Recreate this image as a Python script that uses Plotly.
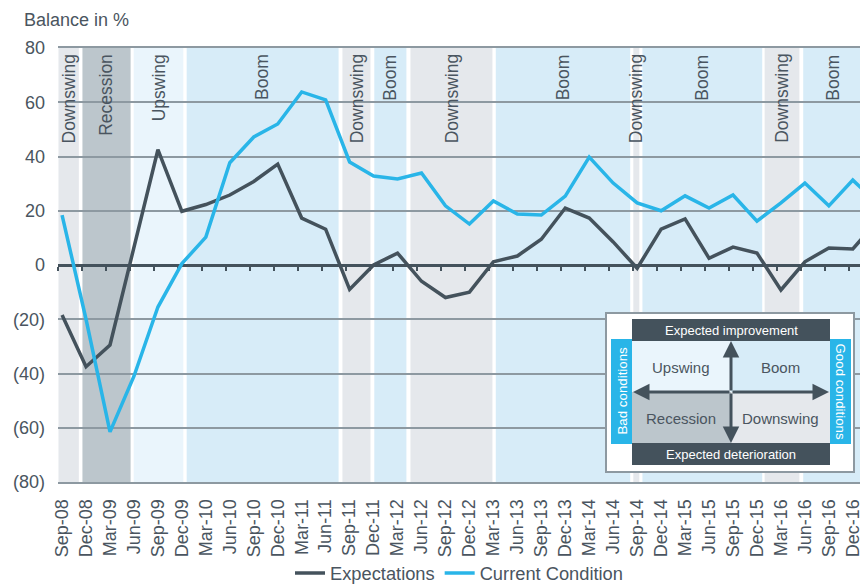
import plotly.graph_objects as go

# ---------------- data ----------------
categories = ["Sep-08", "Dec-08", "Mar-09", "Jun-09", "Sep-09", "Dec-09", "Mar-10", "Jun-10",
              "Sep-10", "Dec-10", "Mar-11", "Jun-11", "Sep-11", "Dec-11", "Mar-12", "Jun-12",
              "Sep-12", "Dec-12", "Mar-13", "Jun-13", "Sep-13", "Dec-13", "Mar-14", "Jun-14",
              "Sep-14", "Dec-14", "Mar-15", "Jun-15", "Sep-15", "Dec-15", "Mar-16", "Jun-16",
              "Sep-16", "Dec-16", "Mar-17"]

expectations = [-18.4, -37.5, -29.5, 6, 42.5, 19.8, 22.3, 25.8, 30.8, 37.2, 17.3, 13.2,
                -9, 0, 4.4, -6, -12, -10, 1.2, 3.3, 9.5, 21, 17.3, 8.5,
                -1.2, 13.2, 17, 2.5, 6.6, 4.4, -9.2, 1.2, 6.3, 5.9, 16]

current_condition = [18.4, -20, -61.5, -41, -15.5, 0.5, 10.3, 37.7, 47.2, 52, 63.8, 60.9,
                     38, 32.8, 31.7, 33.9, 21.8, 15.1, 23.6, 18.8, 18.4, 25.4, 39.8, 30.2,
                     22.9, 20, 25.5, 21, 25.8, 16.2, 22.9, 30.2, 21.8, 31.3, 23]

y_tick_values = [-80, -60, -40, -20, 0, 20, 40, 60, 80]
y_tick_labels = ["(80)", "(60)", "(40)", "(20)", "0", "20", "40", "60", "80"]

# business-cycle phases (start, end in category index units)
phase_names = ["Downswing", "Recession", "Upswing", "Boom", "Downswing", "Boom",
               "Downswing", "Boom", "Downswing", "Boom", "Downswing", "Boom"]
phase_start = [-0.15, 0.85, 2.99, 5.20, 11.70, 13.03, 14.54, 18.10, 23.84, 24.22, 29.32, 30.93]
phase_end = [0.70, 2.86, 5.06, 11.54, 12.87, 14.37, 17.96, 23.71, 24.09, 29.22, 30.77, 33.60]

# ---------------- styles ----------------
FONT = "Liberation Sans, Arial, Helvetica, sans-serif"
TXT = "#4a5560"
DARK = "#44525c"
BLUE = "#29b5e8"
GRID = "#8d99a1"
phase_colors = {"Downswing": "#e5e8ec", "Recession": "#bcc6cc",
                "Upswing": "#eaf5fc", "Boom": "#d7ecf8"}

W, H = 860, 585
ML, MR, MT, MB = 58, 0, 48, 103
PW, PH = W - ML - MR, H - MT - MB
X_RANGE = [-0.17, 33.3]
TICK_SHIFT = -0.17


def px(x):
    return (x - ML) / PW


def py(y):
    return (H - MB - y) / PH


idx = list(range(len(categories)))

fig = go.Figure()
fig.add_trace(go.Scatter(x=idx, y=expectations, mode="lines", name="Expectations",
                         line=dict(color=DARK, width=3.5), cliponaxis=True))
fig.add_trace(go.Scatter(x=idx, y=current_condition, mode="lines", name="Current Condition",
                         line=dict(color=BLUE, width=3.5), cliponaxis=True))
# invisible helper trace so the zero-line axis (x2) is drawn
fig.add_trace(go.Scatter(x=[idx[0]], y=[0], xaxis="x2", mode="markers",
                         marker=dict(opacity=0), showlegend=False, hoverinfo="skip"))

shapes = []
annotations = []

# phase bands + labels
for name, s, e in zip(phase_names, phase_start, phase_end):
    shapes.append(dict(type="rect", xref="x", yref="paper", x0=s, x1=e, y0=0, y1=1,
                       fillcolor=phase_colors[name], line=dict(width=0), layer="below"))
    annotations.append(dict(xref="x", yref="paper", x=(s + min(e, 33.45)) / 2, y=0.99,
                            text=name, textangle=-90, showarrow=False,
                            xanchor="center", yanchor="top",
                            font=dict(family=FONT, size=17.5, color=TXT)))

# axis title
annotations.append(dict(xref="paper", yref="paper", x=px(22), y=py(20), text="Balance in %",
                        showarrow=False, xanchor="left", yanchor="middle",
                        font=dict(family=FONT, size=18, color=TXT)))

# ---------------- inset legend box ----------------
def rect(x0, y0, x1, y1, fill, line_color=None, lw=0):
    shapes.append(dict(type="rect", xref="paper", yref="paper",
                       x0=px(x0), x1=px(x1), y0=py(y1), y1=py(y0),
                       fillcolor=fill, layer="above",
                       line=dict(width=lw, color=line_color or fill)))


def label(x, y, text, size, color, angle=0):
    annotations.append(dict(xref="paper", yref="paper", x=px(x), y=py(y), text=text,
                            textangle=angle, showarrow=False, xanchor="center",
                            yanchor="middle", font=dict(family=FONT, size=size, color=color)))


rect(606, 313, 854, 472, "white", GRID, 2)
rect(632, 341, 731, 392, phase_colors["Upswing"])
rect(731, 341, 830, 392, phase_colors["Boom"])
rect(632, 392, 731, 443, phase_colors["Recession"])
rect(731, 392, 830, 443, phase_colors["Downswing"])
rect(632, 319, 830, 341, DARK)
rect(632, 443, 830, 465, DARK)
rect(611, 339, 632, 444, BLUE)
rect(830, 339, 851, 444, BLUE)

label(731, 330, "Expected improvement", 13, "white")
label(731, 454, "Expected deterioration", 13, "white")
label(621.5, 391, "Bad conditions", 13.3, "white", -90)
label(840.5, 391, "Good conditions", 13.3, "white", 90)
label(681, 367, "Upswing", 15, TXT)
label(780, 367, "Boom", 15, TXT)
label(681, 418, "Recession", 15, TXT)
label(780, 418, "Downswing", 15, TXT)

cx, cy = 731, 392
for hx, hy in [(731, 341), (731, 443), (633, 392), (829, 392)]:
    annotations.append(dict(xref="paper", yref="paper", x=px(hx), y=py(hy), text="",
                            showarrow=True, ax=cx - hx, ay=cy - hy,
                            arrowhead=2, arrowsize=1.1, arrowwidth=3, arrowcolor=DARK))

fig.update_layout(
    width=W, height=H,
    margin=dict(l=ML, r=MR, t=MT, b=MB, autoexpand=False),
    paper_bgcolor="white", plot_bgcolor="white",
    font=dict(family=FONT, size=18, color=TXT),
    showlegend=True,
    legend=dict(orientation="h", x=px(290), y=py(573), xanchor="left", yanchor="middle",
                font=dict(family=FONT, size=18.3, color=TXT), bgcolor="rgba(0,0,0,0)",
                itemwidth=30),
    xaxis=dict(range=X_RANGE, tickmode="array", tickvals=idx, ticktext=categories,
               tickangle=-90, showgrid=False, zeroline=False, showline=True,
               linecolor=GRID, linewidth=2, mirror=True, ticks="",
               ticklabelstandoff=8, ticklabeloverflow="allow", automargin=False,
               layer="below traces",
               tickfont=dict(family=FONT, size=18, color=TXT)),
    xaxis2=dict(range=X_RANGE, overlaying="x", anchor="free", position=0.5, side="bottom",
                tickmode="array", tickvals=[i + TICK_SHIFT for i in idx[:34]],
                showticklabels=False, ticks="outside", ticklen=4, tickwidth=2,
                tickcolor=DARK, showline=True, linecolor=DARK, linewidth=3,
                showgrid=False, zeroline=False, layer="below traces"),
    yaxis=dict(range=[-80, 80], tickmode="array", tickvals=y_tick_values,
               ticktext=y_tick_labels, showgrid=True, gridcolor=GRID, gridwidth=1.5,
               zeroline=False, ticks="", ticklabelstandoff=12, automargin=False,
               tickfont=dict(family=FONT, size=18, color=TXT)),
    shapes=shapes,
    annotations=annotations,
    hovermode=False,
)

fig.write_html("out.html", config={"displayModeBar": False},
               post_script="document.body.style.margin='0';document.body.style.overflow='hidden';")
